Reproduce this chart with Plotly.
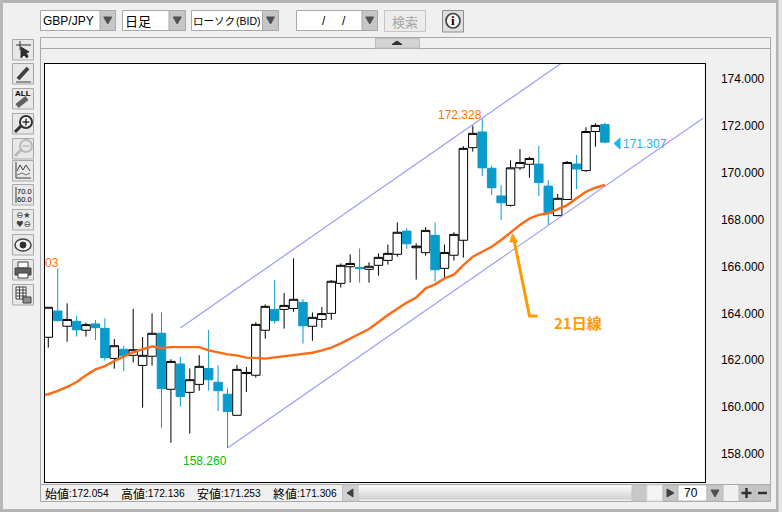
import plotly.graph_objects as go

W = 782
H = 512

# daily candles (index = bar number)
bars = list(range(60))
opens = [162.98, 164.10, 163.45, 163.66, 163.28, 163.55, 163.36, 162.08, 162.47, 162.21,
         161.78, 162.17, 163.15, 160.76, 161.84, 160.63, 160.97, 161.65, 161.06, 160.55,
         159.65, 161.43, 161.36, 163.28, 164.17, 164.17, 164.21, 164.47, 163.45, 163.74,
         164.00, 165.28, 165.99, 165.96, 165.88, 166.05, 166.26, 166.52, 167.51, 166.80,
         166.59, 167.33, 165.92, 166.48, 167.12, 171.07, 171.74, 170.19, 169.01, 168.61,
         170.21, 170.36, 170.37, 169.43, 168.17, 168.86, 170.37, 170.09, 171.76, 172.054]
highs = [164.26, 165.92, 164.43, 163.89, 163.60, 163.72, 163.79, 162.91, 162.61, 164.19,
         162.99, 164.00, 164.04, 162.04, 162.14, 161.65, 162.22, 163.29, 161.78, 160.80,
         161.80, 161.71, 163.62, 164.38, 165.42, 164.87, 166.35, 164.61, 164.04, 164.27,
         165.42, 166.13, 166.52, 166.77, 166.18, 166.56, 166.94, 167.88, 167.64, 166.99,
         167.68, 167.88, 166.94, 167.46, 171.13, 172.01, 172.328, 170.31, 169.48, 170.53,
         171.01, 170.68, 171.14, 169.69, 169.09, 170.50, 170.76, 171.94, 172.11, 172.136]
lows = [162.54, 163.65, 162.79, 163.01, 163.01, 162.86, 161.98, 161.64, 161.54, 161.90,
        159.98, 161.77, 159.12, 158.48, 160.02, 158.87, 160.70, 160.70, 159.83, 158.26,
        159.65, 160.64, 161.26, 162.92, 163.56, 163.35, 164.07, 162.71, 162.83, 163.39,
        163.73, 165.10, 165.31, 165.31, 165.31, 165.61, 166.08, 166.42, 166.76, 165.44,
        166.46, 165.35, 165.55, 166.25, 166.38, 170.90, 169.86, 169.05, 167.98, 168.55,
        170.12, 169.79, 169.01, 167.75, 168.14, 168.86, 169.30, 170.04, 171.11, 171.253]
closes = [164.26, 163.69, 163.74, 163.30, 163.52, 163.39, 162.11, 162.62, 162.19, 162.45,
          162.21, 163.15, 160.79, 161.95, 160.45, 161.17, 161.74, 161.17, 160.70, 159.81,
          161.61, 161.48, 163.53, 164.30, 163.69, 164.34, 164.60, 163.47, 163.83, 163.99,
          165.37, 166.05, 166.13, 165.91, 166.01, 166.39, 166.56, 167.46, 166.97, 166.87,
          167.54, 165.86, 166.60, 167.37, 171.04, 171.68, 170.21, 169.36, 168.72, 170.21,
          170.44, 170.61, 169.58, 168.27, 168.91, 170.44, 170.16, 171.76, 172.02, 171.306]

# 21 day line, starts one bar left of the frame so it runs into the edge
ma_bars = list(range(-1, 60))
ma21 = [160.50, 160.55, 160.69, 160.86, 161.07, 161.36, 161.61, 161.75, 161.97, 162.15,
        162.34, 162.47, 162.59, 162.52, 162.56, 162.56, 162.56, 162.56, 162.42, 162.32,
        162.25, 162.21, 162.11, 162.10, 162.07, 162.12, 162.17, 162.21, 162.25, 162.32,
        162.42, 162.54, 162.72, 162.91, 163.13, 163.33, 163.65, 163.93, 164.20, 164.46,
        164.68, 165.07, 165.24, 165.49, 165.65, 166.06, 166.42, 166.63, 166.84, 167.13,
        167.46, 167.77, 168.05, 168.20, 168.27, 168.45, 168.62, 168.91, 169.19, 169.36,
        169.48]

# channel lines
upper_bars = [14, 54.4]
upper_vals = [163.38, 174.68]
lower_bars = [19, 69.4]
lower_vals = [158.26, 172.33]

price_ticks = [158, 160, 162, 164, 166, 168, 170, 172, 174]
price_labels = ['158.000', '160.000', '162.000', '164.000', '166.000',
                '168.000', '170.000', '172.000', '174.000']

status_names = ['始値', '高値', '安値', '終値']
status_vals = ['172.054', '172.136', '171.253', '171.306']

NARROW = 'Liberation Sans Narrow, Liberation Sans, Arial'
JP = 'Noto Sans CJK JP'
CLEAR = 'rgba(0,0,0,0)'
BORDER = '#a8a8a8'
BTN = '#c6c6c6'
DARK = '#303030'


def px(x):
    return x / W


def py(y):
    return 1 - y / H


shapes = []
notes = []


def rect(x0, y0, x1, y1, fill=CLEAR, line=BORDER, lw=1):
    shapes.append(dict(type='rect', xref='paper', yref='paper', x0=px(x0), y0=py(y0), x1=px(x1), y1=py(y1),
                       fillcolor=fill, line=dict(color=line, width=lw), layer='below'))


def oval(x0, y0, x1, y1, fill=CLEAR, line=DARK, lw=1):
    shapes.append(dict(type='circle', xref='paper', yref='paper', x0=px(x0), y0=py(y0), x1=px(x1), y1=py(y1),
                       fillcolor=fill, line=dict(color=line, width=lw), layer='below'))


def poly(points, fill=None, line=DARK, lw=1, layer='below'):
    path = 'M ' + ' L '.join(f'{px(a):.5f} {py(b):.5f}' for a, b in points)
    if fill:
        path += ' Z'
    shapes.append(dict(type='path', xref='paper', yref='paper', path=path, layer=layer,
                       fillcolor=fill if fill else CLEAR,
                       line=dict(color=line, width=lw)))


def label(x, y, text, color='black', size=12, family=NARROW, anchor='left', bold=False):
    if bold:
        text = f'<b>{text}</b>'
    notes.append(dict(xref='paper', yref='paper', x=px(x), y=py(y), text=text, showarrow=False,
                      xanchor=anchor, yanchor='middle', align='left', borderpad=0, borderwidth=0,
                      font=dict(color=color, size=size, family=family)))


def combo(x0, x1, btn):
    rect(x0, 10.5, x1, 30.5, fill='white')
    rect(btn, 10.5, x1, 30.5, fill=BTN)
    mid = (btn + x1) / 2
    poly([(mid - 4, 17), (mid + 4, 17), (mid, 24)], fill='#505050', line='#505050')


# window edges
rect(-2, -2, W + 2, 2.5, fill='#b4b4b4', line='#b4b4b4')
rect(-2, -2, 2.5, H + 2, fill='#b8b8b8', line='#b8b8b8')
rect(778, -2, W + 2, H + 2, fill='#e6e6e6', line='#e6e6e6')
rect(776.5, -2, 778, H + 2, fill='#b4b4b4', line='#b4b4b4')
rect(-2, 509.5, 778, H + 2, fill='#b4b4b4', line='#b4b4b4')

# top controls
combo(40.5, 115.5, 100)
label(43, 20.5, 'GBP/JPY', family='Liberation Sans', size=12)
combo(122.5, 185.5, 169)
label(125, 20.5, '日足', family=JP, size=13)
combo(191.5, 278.5, 262.5)
label(193, 20.5, 'ローソク', family=JP, size=10.5)
label(236, 20.5, '(BID)', size=10.5)
combo(296.5, 377.5, 362)
label(322, 20.5, '/&nbsp;&nbsp;&nbsp;&nbsp;&nbsp;/', family='Liberation Sans', size=12)
rect(384.5, 10.5, 425.5, 31.5, fill='#ececec', line='#c4c4c4')
label(405, 21, '検索', color='#a6a6a6', size=13, family=JP, anchor='center')
rect(442.5, 10.5, 463.5, 32, fill='#dedede', line='#8c8c8c')
oval(446, 13.5, 460, 28, fill='#f4f4f4', line='#404040', lw=1.6)
label(453, 20.5, 'i', size=13, family='Liberation Serif', anchor='center', bold=True)

# chart panel
rect(40.5, 37.5, 770.5, 501.5)
rect(40.5, 37.5, 770.5, 48.5)
rect(375.5, 38.5, 419.5, 48, fill='#d4d4d4', line='#bcbcbc')
poly([(392, 44.5), (402, 44.5), (397, 41)], fill='#303030', line='#303030')

# status row
rect(40.5, 484.5, 770.5, 501.5)
x_pos = [45, 121, 197, 273]
for x, name, val in zip(x_pos, status_names, status_vals):
    label(x, 493, name, size=12, family=JP)
    label(x + 24, 493, ':' + val, size=10.2)
rect(342.5, 485, 358.5, 501, fill='#d0d0d0', line='#c0c0c0')
poly([(353, 489), (353, 497), (347, 493)], fill='#404040', line='#404040')
for i in range(7):
    shade = 250 - i * 7
    rect(358.5, 485.5 + i * 2, 632, 487.5 + i * 2, fill=f'rgb({shade},{shade},{shade})', line=f'rgb({shade},{shade},{shade})', lw=0)
rect(632, 485, 647, 501, fill='#c8c8c8', line='#c0c0c0')
rect(647, 485, 663, 501, fill='#f4f4f4', line='#dddddd')
rect(663, 485, 678, 501, fill=BTN, line='#b8b8b8')
poly([(667, 489), (667, 497), (674, 493)], fill='#404040', line='#404040')
rect(678, 485, 707, 501, fill='white', line='#b8b8b8')
label(691, 493, '70', size=12, anchor='center')
rect(707, 485, 723, 501, fill=BTN, line='#b8b8b8')
poly([(711, 490), (719, 490), (715, 497)], fill='#505050', line='#505050')
rect(739, 485, 754, 501, fill=BTN, line='#b8b8b8')
poly([(746.5, 488), (746.5, 498)], line='#303030', lw=2.5)
poly([(741.5, 493), (751.5, 493)], line='#303030', lw=2.5)
rect(755, 485, 770, 501, fill=BTN, line='#b8b8b8')
poly([(758, 493), (767, 493)], line='#303030', lw=2.5)

# left toolbar
button_tops = [39, 63, 88, 113, 138, 160, 184, 209, 234, 259, 284]
for top in button_tops:
    rect(12.5, top + 0.5, 33.5, top + 21, fill='#e8e8e8', line='#a8a8a8')
# cursor
poly([(16, 45), (31, 45)], line='#303030')
poly([(20, 41), (20, 50)], line='#303030')
poly([(21, 47), (21, 58), (24, 55), (27, 58), (28, 56), (26, 53), (29, 52)], fill='#303030', line='#303030')
# pencil
poly([(18, 79), (28, 68)], line='#404040', lw=4)
poly([(16, 82), (31, 82)], line='#404040')
# all clear
label(23, 93, 'ALL', size=8, family='Liberation Sans', anchor='center', bold=True)
poly([(17, 106), (27, 98)], line='#606060', lw=5)
# zoom in / out
oval(20, 116, 32, 128, fill='white', line='#303030', lw=2)
poly([(15, 132), (21, 126)], line='#303030', lw=3)
poly([(26, 118.5), (26, 125.5)], line='#303030', lw=1.5)
poly([(22.5, 122), (29.5, 122)], line='#303030', lw=1.5)
oval(20, 140, 32, 152, line='#b8b8b8', lw=2)
poly([(15, 156), (21, 150)], line='#b8b8b8', lw=3)
poly([(22.5, 146), (29.5, 146)], line='#b8b8b8', lw=1.5)
# indicators
poly([(16, 162), (16, 178), (31, 178)], line='#404040')
poly([(17, 171), (20, 165), (23, 170), (26, 165), (30, 171)], line='#404040')
poly([(17, 175), (22, 173), (26, 175), (30, 173)], line='#707070')
# scale
poly([(16, 187), (16, 203)], line='#404040')
label(24, 191, '70.0', size=7.5, anchor='center')
label(24, 199, '60.0', size=7.5, anchor='center')
# marks
label(23, 215, '⊖★', size=8.5, family='DejaVu Sans', color='#404040', anchor='center')
label(23, 224, '♥⊖', size=8.5, family='DejaVu Sans', color='#404040', anchor='center')
# eye
oval(15, 239, 31, 251, fill='#f4f4f4', line='#404040', lw=1.5)
oval(20, 242, 26, 248, fill='#303030', line='#303030')
# printer
rect(18, 262, 28, 268, fill='white', line='#404040')
rect(15, 268, 31, 275, fill='#606060', line='#404040')
rect(18, 273, 28, 278, fill='white', line='#404040')
# table
rect(16, 287, 26, 299, fill='white', line='#404040')
for gy in [290, 293, 296]:
    poly([(16, gy), (26, gy)], line='#404040')
for gx in [19.5, 23]:
    poly([(gx, 287), (gx, 299)], line='#404040')
rect(23, 297, 31, 303, fill='#909090', line='#404040')

# notes on the chart
label(459.5, 115, '172.328', color='#ff7000', size=12, family='Liberation Sans', anchor='center')
label(205, 461, '158.260', color='#00c000', size=12, family='Liberation Sans', anchor='center')
label(623, 143.5, '171.307', color='#19b5f1', size=12, family='Liberation Sans')
label(44.5, 263, '03', color='#ff7000', size=12, family='Liberation Sans')
label(554, 322, '21日線', color='#ff9a00', size=15, family=JP, bold=True)
poly([(614, 143.5), (620, 138), (620, 149)], fill='#19b5f1', line='#19b5f1', layer='above')
poly([(514, 240), (529.5, 316), (537.5, 316)], line='#ff9a00', lw=3, layer='above')
poly([(512.5, 234), (510, 242), (517.5, 242)], fill='#ff9a00', line='#ff9a00', layer='above')

fig = go.Figure()
fig.add_trace(go.Candlestick(
    x=bars, open=opens, high=highs, low=lows, close=closes,
    increasing=dict(line=dict(color='black', width=1), fillcolor='white'),
    decreasing=dict(line=dict(color='#0a9bcd', width=1), fillcolor='#0a9bcd'),
    whiskerwidth=0, showlegend=False, name='GBP/JPY'))
fig.add_trace(go.Scatter(x=upper_bars, y=upper_vals, mode='lines', showlegend=False,
                         line=dict(color='#9c9cfa', width=1.2)))
fig.add_trace(go.Scatter(x=lower_bars, y=lower_vals, mode='lines', showlegend=False,
                         line=dict(color='#9c9cfa', width=1.2)))
fig.add_trace(go.Scatter(x=ma_bars, y=ma21, mode='lines', showlegend=False,
                         line=dict(color='#ff6a13', width=2.4)))

fig.update_layout(
    width=W, height=H, autosize=False,
    margin=dict(l=0, r=0, t=0, b=0),
    paper_bgcolor='#f0f0f0', plot_bgcolor='white',
    showlegend=False, boxgap=0.1, boxgroupgap=0,
    shapes=shapes, annotations=notes,
    xaxis=dict(domain=[px(44.5), px(704.5)], range=[-0.40, 69.56], visible=True,
               showgrid=False, zeroline=False, showticklabels=False, ticks='',
               rangeslider=dict(visible=False), showline=True, mirror=True,
               linecolor='black', linewidth=1),
    yaxis=dict(domain=[py(482), py(64)], range=[156.805, 174.64], side='right',
               tickmode='array', tickvals=price_ticks, ticktext=price_labels,
               showgrid=False, zeroline=False, showline=True, mirror=True,
               linecolor='black', linewidth=1, ticks='outside', ticklen=13,
               tickcolor='rgba(0,0,0,0)', tickfont=dict(family=NARROW, size=12, color='black')),
)

fig.write_html("out.html", config={'displayModeBar': False},
               post_script="document.body.style.margin='0';document.body.style.overflow='hidden';")
